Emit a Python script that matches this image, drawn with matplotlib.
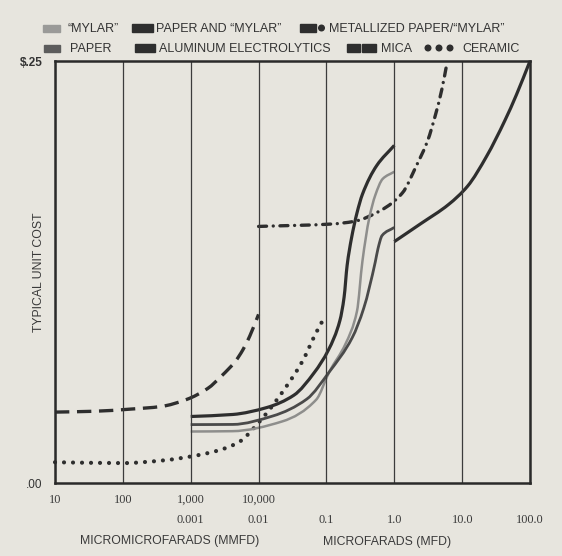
import matplotlib.pyplot as plt
from matplotlib.patches import Rectangle, Circle, PathPatch
from matplotlib.path import Path
import numpy as np

# capacitance in pF, typical unit cost in dollars
mica_pf = [10, 38, 132, 363, 871, 1780, 2880, 4570, 5890, 7410, 10000]
mica_cost = [0.0420, 0.0425, 0.0438, 0.0453, 0.0495, 0.0560, 0.0636, 0.0722, 0.0790, 0.0870, 0.0999]

ceramic_pf = [10, 100, 398, 1000, 2510, 5010, 10700, 26300, 43700, 70800, 91200]
ceramic_cost = [0.0123, 0.0118, 0.0134, 0.0157, 0.0192, 0.0240, 0.0371, 0.0578, 0.0717, 0.0892, 0.0973]

paper_mylar_pf = [1000, 4170, 13200, 33100, 66100, 107000, 158000, 182000, 202000, 234000, 282000, 339000, 550000, 1000000]
paper_mylar_cost = [0.0394, 0.0406, 0.0447, 0.0520, 0.0654, 0.0788, 0.0963, 0.110, 0.129, 0.145, 0.160, 0.171, 0.188, 0.200]

mylar_pf = [1000, 4070, 22400, 70800, 110000, 191000, 282000, 339000, 427000, 525000, 676000, 1000000]
mylar_cost = [0.0305, 0.0307, 0.0365, 0.0494, 0.0658, 0.0824, 0.1018, 0.1313, 0.1568, 0.1705, 0.1802, 0.1844]

paper_pf = [1000, 4170, 16200, 51300, 110000, 240000, 355000, 525000, 575000, 661000, 1000000]
paper_cost = [0.0346, 0.0347, 0.0397, 0.0497, 0.0658, 0.0861, 0.1036, 0.1310, 0.1388, 0.1466, 0.1514]

alum_pf = [1e6, 2.45e6, 6.31e6, 1.2e7, 2.29e7, 4.27e7, 6.31e7, 1e8]
alum_cost = [0.1430, 0.1536, 0.1650, 0.1758, 0.1935, 0.2148, 0.2300, 0.25]

metal_pf = [1e4, 1.17e5, 2.57e5, 6.46e5, 1.32e6, 2.09e6, 3.09e6, 4.07e6, 5.01e6, 6.03e6]
metal_cost = [0.152, 0.1534, 0.155, 0.1617, 0.1719, 0.1875, 0.2026, 0.2185, 0.233, 0.2496]

tick_pf = [10, 100, 1000, 10000, 1e5, 1e6, 1e7, 1e8]
tick_labels = ['10', '100', '1,000\n0.001', '10,000\n0.01', '\n0.1', '\n1.0', '\n10.0', '\n100.0']

W, H = 562, 556
paper_bg = '#e7e5de'
ink = '#2e2e2e'


def curve(ax, xs, ys, **kw):
    # smooth monotone cubic through the read points, drawn as a bezier path
    # in log-x space (the old chart was hand drawn, not a polyline)
    lx = np.log10(xs)
    y = np.asarray(ys, dtype=float)
    h = np.diff(lx)
    d = np.diff(y) / h
    m = np.empty(len(lx))
    m[0], m[-1] = d[0], d[-1]
    for i in range(1, len(lx) - 1):
        if d[i - 1] * d[i] <= 0:
            m[i] = 0
        else:
            w1 = 2 * h[i] + h[i - 1]
            w2 = h[i] + 2 * h[i - 1]
            m[i] = (w1 + w2) / (w1 / d[i - 1] + w2 / d[i])
    verts = [(lx[0], y[0])]
    codes = [Path.MOVETO]
    for i in range(len(h)):
        verts += [(lx[i] + h[i] / 3, y[i] + m[i] * h[i] / 3),
                  (lx[i + 1] - h[i] / 3, y[i + 1] - m[i + 1] * h[i] / 3),
                  (lx[i + 1], y[i + 1])]
        codes += [Path.CURVE4] * 3
    p = PathPatch(Path(verts, codes), fill=False, transform=ax.transLimits + ax.transAxes, **kw)
    ax.add_patch(p)
    return p


fig = plt.figure(figsize=(W / 100, H / 100), dpi=100)
fig.patch.set_facecolor(paper_bg)

ax = fig.add_axes([55 / W, 1 - 483 / H, (530 - 55) / W, (483 - 61) / H])
ax.set_facecolor(paper_bg)
ax.set_xscale('log')
ax.set_xlim(10, 1e8)
ax.set_ylim(0, 0.25)

curve(ax, mica_pf, mica_cost, edgecolor=ink, lw=2.4, linestyle=(0, (4.3, 2.3)),
      capstyle='butt', clip_on=False)
curve(ax, ceramic_pf, ceramic_cost, edgecolor=ink, lw=3.0, linestyle=(0, (0.01, 2.15)),
      capstyle='round', clip_on=False)
curve(ax, metal_pf, metal_cost, edgecolor=ink, lw=2.4, linestyle=(0, (2.4, 2.0, 0.01, 2.0)),
      capstyle='round', clip_on=False)
curve(ax, mylar_pf, mylar_cost, edgecolor='#8e8e8c', lw=1.8)
curve(ax, paper_pf, paper_cost, edgecolor='#4a4a4a', lw=2.0)
curve(ax, paper_mylar_pf, paper_mylar_cost, edgecolor=ink, lw=2.3)
curve(ax, alum_pf, alum_cost, edgecolor=ink, lw=2.3, clip_on=False)

ax.set_xticks(tick_pf)
ax.set_xticklabels(tick_labels)
ax.xaxis.set_minor_locator(plt.NullLocator())
ax.tick_params(axis='x', length=0, pad=8)
for lab in ax.get_xticklabels():
    lab.set_fontfamily('Liberation Serif')
    lab.set_fontsize(8.8)
    lab.set_color('#3a3a3a')
    lab.set_linespacing(1.85)
ax.grid(axis='x', which='major', color='#3c3c3c', lw=0.9)

ax.set_yticks([0, 0.25])
ax.set_yticklabels(['.00', '$.25'], fontfamily='Liberation Sans', fontsize=8.5, color='#333333')
ax.get_yticklabels()[1].set_fontweight('bold')
ax.tick_params(axis='y', length=0, pad=9)

for s in ax.spines.values():
    s.set_linewidth(1.8)
    s.set_color('#2a2a2a')

ax.text(-0.033, 0.5, 'TYPICAL UNIT COST', rotation=90, ha='center', va='center',
        transform=ax.transAxes, fontfamily='Liberation Sans', fontsize=8.8, color='#3a3a3a')
ax.text(0.242, -0.137, 'MICROMICROFARADS (MMFD)', ha='center', va='center',
        transform=ax.transAxes, fontfamily='Liberation Sans', fontsize=8.8, color='#3a3a3a')
ax.text(0.70, -0.14, 'MICROFARADS (MFD)', ha='center', va='center',
        transform=ax.transAxes, fontfamily='Liberation Sans', fontsize=8.8, color='#3a3a3a')

# legend drawn in pixel coordinates on an overlay
ov = fig.add_axes([0, 0, 1, 1])
ov.set_xlim(0, W)
ov.set_ylim(H, 0)
ov.axis('off')

lfont = dict(fontfamily='Liberation Sans', fontsize=9, color='#333333', va='center', ha='left')
r1, r2 = 28, 48

ov.add_patch(Rectangle((43, r1 - 3.5), 17, 7, color='#9a9a98'))
ov.text(67, r1 + 1, '\u201cMYLAR\u201d', **lfont)
ov.add_patch(Rectangle((132, r1 - 4), 21, 8, color=ink))
ov.text(156, r1 + 1, 'PAPER AND \u201cMYLAR\u201d', **lfont)
ov.add_patch(Rectangle((300, r1 - 4), 16, 8, color=ink))
ov.add_patch(Circle((321.5, r1), 2.8, color=ink))
ov.text(329, r1 + 1, 'METALLIZED PAPER/\u201cMYLAR\u201d', **lfont)

ov.add_patch(Rectangle((44, r2 - 3.5), 16, 7, color='#5c5c5c'))
ov.text(70, r2 + 1, 'PAPER', **lfont)
ov.add_patch(Rectangle((135, r2 - 4), 20, 8, color=ink))
ov.text(159, r2 + 1, 'ALUMINUM ELECTROLYTICS', **lfont)
ov.add_patch(Rectangle((347, r2 - 4), 13, 8, color=ink))
ov.add_patch(Rectangle((362, r2 - 4), 14, 8, color=ink))
ov.text(381, r2 + 1, 'MICA', **lfont)
for cx in (428, 439, 450):
    ov.add_patch(Circle((cx, r2), 2.8, color=ink))
ov.text(462, r2 + 1, 'CERAMIC', **lfont)

fig.savefig('out.png', dpi=100, facecolor=paper_bg)
